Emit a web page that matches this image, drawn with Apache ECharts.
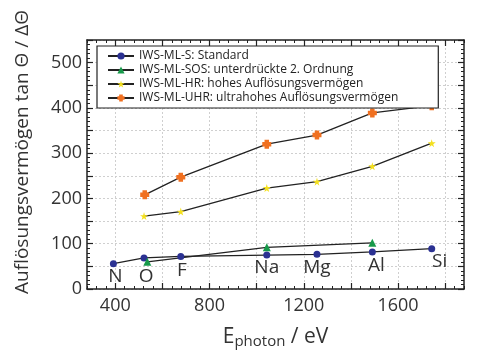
<!DOCTYPE html>
<html>
<head>
<meta charset="utf-8">
<script src="https://cdn.jsdelivr.net/npm/echarts@6/dist/echarts.min.js"></script>
<style>
  html, body { margin: 0; padding: 0; background: #fff; }
  #chart { width: 478px; height: 354px; }
</style>
</head>
<body>
<div id="chart"></div>
<script>
// data
const elements = ["N", "O", "F", "Na", "Mg", "Al", "Si"];
const energyS = [392, 522, 678, 1043, 1256, 1491, 1743];
const valuesS = [56, 68.6, 72, 75, 76.5, 82, 89];
const energySOS = [536, 1043, 1491];
const valuesSOS = [60, 92, 102];
const energyHR = [522, 678, 1043, 1256, 1491, 1743];
const valuesHR = [161, 171, 223, 237, 271, 322];
const energyUHR = [525, 678, 1043, 1256, 1491, 1743];
const valuesUHR = [208, 247, 320, 340, 389, 405];
const seriesNames = [
  "IWS-ML-S: Standard",
  "IWS-ML-SOS: unterdrückte 2. Ordnung",
  "IWS-ML-HR: hohes Auflösungsvermögen",
  "IWS-ML-UHR: ultrahohes Auflösungsvermögen",
];
const xMajorTicks = [400, 600, 800, 1000, 1200, 1400, 1600, 1800];
const xTickLabels = [400, 800, 1200, 1600];

const FONT = "Open Sans";
const INK = "#222";
const pair = (xs, ys) => xs.map((x, i) => [x, ys[i]]);

// element label nudges (style only)
const labelOffsets = [[2, 0], [2, 6], [1, 1], [0, 0], [0, 0], [4, 1], [8, 0]];

const chart = echarts.init(document.getElementById("chart"));

function xAxisPair(position) {
  const bottom = position === "bottom";
  return [
    {
      type: "value", position, min: 280, max: 1880,
      axisLine: { show: true, onZero: false, lineStyle: { color: INK, width: 1.5 } },
      axisTick: { show: true, inside: true, length: 6, customValues: xMajorTicks, lineStyle: { color: INK, width: 1.2 } },
      axisLabel: bottom
        ? { show: true, customValues: xTickLabels, color: "#333", fontFamily: FONT, fontSize: 18, margin: 8,
            formatter: (v) => String(v) }
        : { show: false },
      splitLine: bottom ? { show: true, lineStyle: { color: "#cfcfcf", type: [2, 2], width: 1 } } : { show: false },
      name: bottom ? "{e|E}{sub|photon}{e| / eV}" : "",
      nameLocation: "middle", nameGap: 36,
      nameTextStyle: {
        rich: {
          e: { fontFamily: FONT, fontSize: 21, color: "#333" },
          sub: { fontFamily: FONT, fontSize: 15, color: "#333", verticalAlign: "bottom", padding: [9, 0, 0, 0] },
        },
      },
    },
    {
      type: "value", position, min: 280, max: 1880, interval: 40,
      axisLine: { show: false, onZero: false },
      axisTick: { show: true, inside: true, length: 3, lineStyle: { color: INK, width: 1 } },
      axisLabel: { show: false },
      splitLine: { show: false },
    },
  ];
}

function yAxis(position) {
  const left = position === "left";
  return {
    type: "value", position, min: 0, max: 550, interval: 50,
    axisLine: { show: true, onZero: false, lineStyle: { color: INK, width: 1.5 } },
    axisTick: { show: true, inside: true, length: 6, lineStyle: { color: INK, width: 1.2 } },
    minorTick: { show: true, splitNumber: 5, length: 3, lineStyle: { color: INK, width: 1 } },
    axisLabel: left
      ? { show: true, color: "#333", fontFamily: FONT, fontSize: 18, margin: 5,
          formatter: (v) => (v % 100 === 0 ? String(v) : "") }
      : { show: false },
    splitLine: left ? { show: true, lineStyle: { color: "#cfcfcf", type: [2, 2], width: 1 } } : { show: false },
    name: left ? "Auflösungsvermögen tan Θ / ΔΘ" : "",
    nameLocation: "middle", nameGap: 55,
    nameTextStyle: { fontFamily: FONT, fontSize: 19, color: "#333", padding: [0, 0, 0, 25] },
  };
}

const lineBase = {
  type: "line", xAxisIndex: 0, yAxisIndex: 0,
  lineStyle: { color: INK, width: 1.3 },
  emphasis: { disabled: true },
  z: 3,
};

chart.setOption({
  animation: false,
  backgroundColor: "#fff",
  textStyle: { fontFamily: FONT },
  grid: { left: 87, right: 14, top: 40, bottom: 63, containLabel: false },
  legend: {
    orient: "vertical", left: 97, top: 46,
    padding: [4, 40, 4, 10], itemGap: 2,
    itemWidth: 26, itemHeight: 9,
    borderColor: INK, borderWidth: 1.2, backgroundColor: "#fff",
    textStyle: { fontFamily: FONT, fontSize: 12, color: INK },
    data: seriesNames,
  },
  xAxis: [...xAxisPair("bottom"), ...xAxisPair("top")],
  yAxis: [yAxis("left"), yAxis("right")],
  series: [
    {
      ...lineBase, name: seriesNames[0],
      symbol: "circle", symbolSize: 7,
      itemStyle: { color: "#2b3192" },
      data: pair(energyS, valuesS).map((p, i) => ({
        value: p,
        label: { show: true, position: "bottom", distance: 0, offset: labelOffsets[i],
                 formatter: elements[i], fontFamily: FONT, fontSize: 19, color: "#333" },
      })),
    },
    {
      ...lineBase, name: seriesNames[1],
      symbol: "triangle", symbolSize: 8,
      itemStyle: { color: "#17994a" },
      data: pair(energySOS, valuesSOS),
    },
    {
      ...lineBase, name: seriesNames[2],
      symbol: "path://M50,0 L61,35 L98,35 L68,57 L79,92 L50,70 L21,92 L32,57 L2,35 L39,35 Z",
      symbolSize: 8,
      itemStyle: { color: "#f4e01d" },
      data: pair(energyHR, valuesHR),
    },
    {
      ...lineBase, name: seriesNames[3],
      symbol: "path://M2.5,0 H7.5 V2.5 H10 V7.5 H7.5 V10 H2.5 V7.5 H0 V2.5 H2.5 Z",
      symbolSize: 9,
      itemStyle: { color: "#f07020" },
      data: pair(energyUHR, valuesUHR),
    },
  ],
});
</script>
</body>
</html>
